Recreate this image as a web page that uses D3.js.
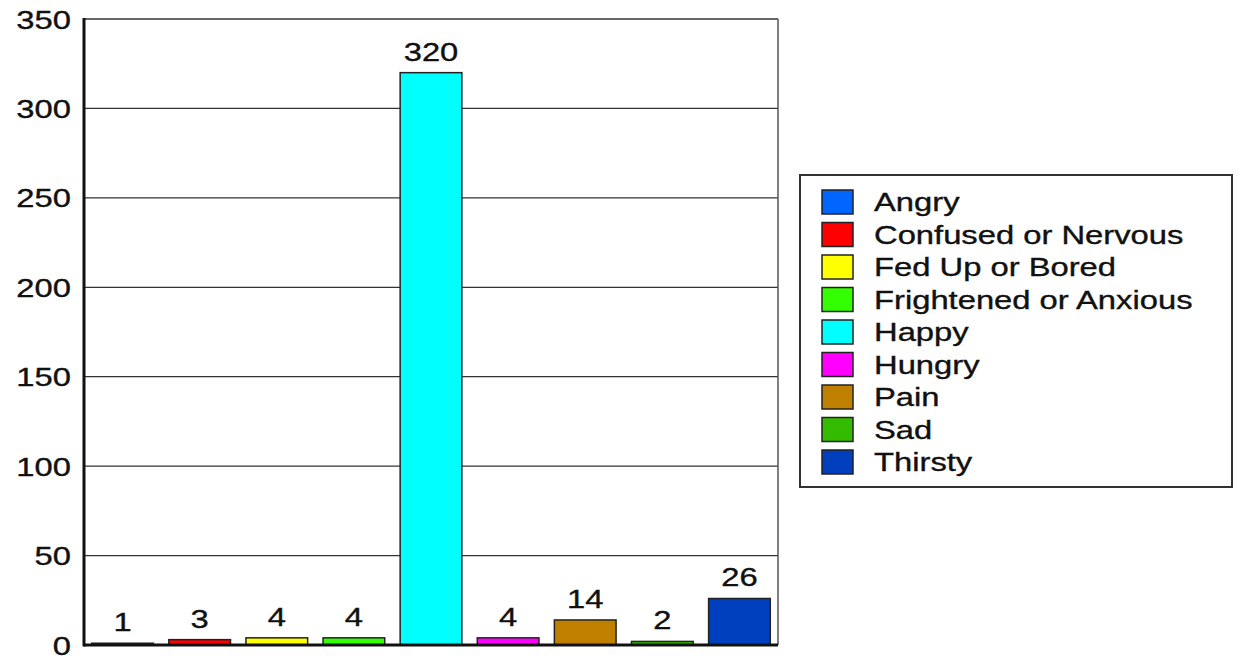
<!DOCTYPE html>
<html>
<head>
<meta charset="utf-8">
<script src="https://cdn.jsdelivr.net/npm/d3@7"></script>
<style>
  body { margin: 0; background: #fff; }
  text { font-family: "Liberation Sans", Arial, sans-serif; fill: #111; stroke: #111; stroke-width: 0.35px; }
</style>
</head>
<body>
<div id="chart"></div>
<script>
// chart data
var categories = ["Angry", "Confused or Nervous", "Fed Up or Bored", "Frightened or Anxious",
    "Happy", "Hungry", "Pain", "Sad", "Thirsty"];
var counts = [1, 3, 4, 4, 320, 4, 14, 2, 26];
var colors = ["#0066ff", "#ff0000", "#ffff00", "#33ff00", "#00ffff", "#ff00ff", "#bf8000", "#33bb00", "#0040bf"];
var yTicks = [0, 50, 100, 150, 200, 250, 300, 350];

var width = 1243, height = 658;
var margin = { top: 19, right: 465, bottom: 13, left: 84 };
var sx = 1.31; // text in the original is stretched sideways

var svg = d3.select("#chart").append("svg")
    .attr("width", width)
    .attr("height", height);

var xScale = d3.scaleBand()
    .domain(categories)
    .range([margin.left, width - margin.right])
    .paddingInner(0.2)
    .paddingOuter(0.1);

var yScale = d3.scaleLinear()
    .domain([0, 350])
    .range([height - margin.bottom, margin.top]);

// gridlines
svg.append("g")
    .selectAll("line")
    .data(yTicks.slice(1))
    .enter().append("line")
    .attr("x1", margin.left)
    .attr("x2", width - margin.right)
    .attr("y1", d => yScale(d))
    .attr("y2", d => yScale(d))
    .attr("stroke", "#333")
    .attr("stroke-width", 1.3);

// right border
svg.append("line")
    .attr("x1", width - margin.right).attr("x2", width - margin.right)
    .attr("y1", margin.top).attr("y2", yScale(0))
    .attr("stroke", "#555").attr("stroke-width", 1.5);

// bars
svg.append("g")
    .selectAll("rect")
    .data(counts)
    .enter().append("rect")
    .attr("x", (d, i) => xScale(categories[i]))
    .attr("y", d => yScale(d))
    .attr("width", xScale.bandwidth())
    .attr("height", d => yScale(0) - yScale(d))
    .attr("fill", (d, i) => colors[i])
    .attr("stroke", "#222")
    .attr("stroke-width", 1.5);

// value labels
svg.append("g")
    .selectAll("text")
    .data(counts)
    .enter().append("text")
    .attr("transform", (d, i) => `translate(${xScale(categories[i]) + xScale.bandwidth() / 2},${yScale(d) - 12}) scale(${sx},1)`)
    .attr("text-anchor", "middle")
    .attr("font-size", 25)
    .text(d => d);

// y axis
var yAxis = d3.axisLeft(yScale).tickValues(yTicks).tickSize(0).tickPadding(12);
var yg = svg.append("g")
    .attr("transform", `translate(${margin.left},0)`)
    .call(yAxis);
yg.select(".domain").remove();
yg.selectAll("text")
    .attr("font-size", 25)
    .attr("font-family", "Liberation Sans, Arial, sans-serif")
    .attr("fill", "#111")
    .attr("x", null)
    .attr("dy", "0.36em")
    .attr("transform", `translate(-13,0) scale(${sx},1)`);

// axis frame lines
svg.append("line")
    .attr("x1", margin.left).attr("x2", width - margin.right)
    .attr("y1", yScale(0)).attr("y2", yScale(0))
    .attr("stroke", "#111").attr("stroke-width", 3);
svg.append("line")
    .attr("x1", margin.left).attr("x2", margin.left)
    .attr("y1", margin.top - 1).attr("y2", yScale(0) + 1.5)
    .attr("stroke", "#111").attr("stroke-width", 3);

// legend
var legend = svg.append("g").attr("transform", "translate(800,175)");
legend.append("rect")
    .attr("width", 432).attr("height", 312)
    .attr("fill", "#fff").attr("stroke", "#333").attr("stroke-width", 2);

var rows = legend.selectAll("g.row")
    .data(categories)
    .enter().append("g")
    .attr("class", "row")
    .attr("transform", (d, i) => `translate(0,${15 + i * 32.5})`);
rows.append("rect")
    .attr("x", 22).attr("width", 31).attr("height", 24)
    .attr("fill", (d, i) => colors[i])
    .attr("stroke", "#222").attr("stroke-width", 1.5);
rows.append("text")
    .attr("transform", `translate(74,21) scale(${sx},1)`)
    .attr("font-size", 25)
    .text(d => d);
</script>
</body>
</html>
